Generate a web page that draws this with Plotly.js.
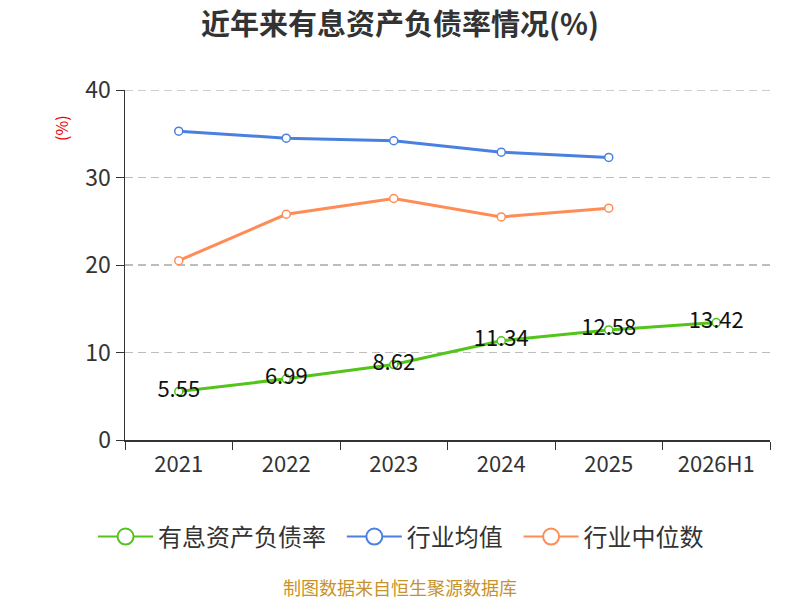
<!DOCTYPE html>
<html>
<head>
<meta charset="utf-8">
<script src="https://cdn.plot.ly/plotly-3.0.1.min.js"></script>
<style>
  html, body { margin: 0; padding: 0; background: #fff; }
  #chart { width: 800px; height: 600px; }
</style>
</head>
<body>
<div id="chart"></div>
<script>
// categories and series
var years = ['2021', '2022', '2023', '2024', '2025', '2026H1'];
var debtRatio = [5.55, 6.99, 8.62, 11.34, 12.58, 13.42];
var industryMean = [35.3, 34.5, 34.2, 32.9, 32.3, null];
var industryMedian = [20.5, 25.8, 27.6, 25.5, 26.5, null];
var seriesNames = ['有息资产负债率', '行业均值', '行业中位数'];
var yTicks = [0, 10, 20, 30, 40];

var font = '"Noto Sans CJK SC", "Noto Sans", sans-serif';
var colors = ['#52c41a', '#4a80e0', '#ff8c55'];
var gridStyle = { color: '#bdbdbd', width: 1.5, dash: '8px,5px' };

function lineTrace(y, color, withText) {
  return {
    type: 'scatter',
    x: years,
    y: y,
    mode: withText ? 'lines+markers+text' : 'lines+markers',
    text: withText ? y.map(function (v) { return v.toFixed(2); }) : undefined,
    textposition: 'middle center',
    textfont: { family: font, size: 22, color: '#111' },
    line: { color: color, width: 3 },
    marker: { size: 8, color: '#fff', line: { color: color, width: 1.5 } },
    showlegend: false,
    hoverinfo: 'x+y'
  };
}

// legend-only entries so the legend circles can be bigger than the data markers
function legendTrace(name, color, pad) {
  return {
    type: 'scatter',
    x: [null],
    y: [null],
    name: pad ? name + '\u00a0\u00a0' : name,
    mode: 'lines+markers',
    line: { color: color, width: 2 },
    marker: { size: 20, color: '#fff', line: { color: color, width: 2 } }
  };
}

var data = [
  lineTrace(industryMean, colors[1], false),
  lineTrace(industryMedian, colors[2], false),
  lineTrace(debtRatio, colors[0], true),
  legendTrace(seriesNames[0], colors[0], true),
  legendTrace(seriesNames[1], colors[1], true),
  legendTrace(seriesNames[2], colors[2], false)
];

var layout = {
  width: 800,
  height: 600,
  margin: { l: 125, r: 30, t: 90, b: 160 },
  paper_bgcolor: '#fff',
  plot_bgcolor: '#fff',
  font: { family: font, color: '#333' },
  title: {
    text: '<b>近年来有息资产负债率情况(%)</b>',
    font: { family: font, size: 29, color: '#333' },
    x: 0.5,
    xanchor: 'center',
    y: 0.958,
    yanchor: 'middle'
  },
  xaxis: {
    type: 'category',
    range: [-0.5, 5.5],
    tickson: 'boundaries',
    ticks: 'outside',
    ticklen: 8,
    tickcolor: '#333',
    ticklabelstandoff: 4,
    showline: true,
    linecolor: '#333',
    linewidth: 1.5,
    showgrid: false,
    zeroline: false,
    tickfont: { family: font, size: 22, color: '#333' }
  },
  yaxis: {
    range: [0, 40],
    tickvals: yTicks,
    ticks: 'outside',
    ticklen: 8,
    tickcolor: '#333',
    showline: true,
    linecolor: '#333',
    linewidth: 1.5,
    showgrid: true,
    gridcolor: gridStyle.color,
    griddash: gridStyle.dash,
    gridwidth: gridStyle.width,
    zeroline: false,
    tickfont: { family: font, size: 23, color: '#333' }
  },
  // top gridline sits on the range edge, which plotly skips
  shapes: [{
    type: 'line',
    xref: 'paper', yref: 'y',
    x0: 0, x1: 1, y0: 40, y1: 40,
    line: gridStyle,
    layer: 'below'
  }],
  legend: {
    orientation: 'h',
    x: 0.428,
    xanchor: 'center',
    y: -0.277,
    yanchor: 'middle',
    font: { family: font, size: 24, color: '#333' },
    itemwidth: 55
  },
  annotations: [
    {
      text: '(%)',
      xref: 'paper', yref: 'paper',
      x: -0.1, y: 0.89,
      xanchor: 'center', yanchor: 'middle',
      textangle: -90,
      showarrow: false,
      font: { family: font, size: 16, color: '#e00' }
    },
    {
      text: '制图数据来自恒生聚源数据库',
      xref: 'paper', yref: 'paper',
      x: 0.426, y: -0.42,
      xanchor: 'center', yanchor: 'middle',
      showarrow: false,
      font: { family: font, size: 18, color: '#c8922a' }
    }
  ]
};

Plotly.newPlot('chart', data, layout, { displayModeBar: false, staticPlot: true });
</script>
</body>
</html>
